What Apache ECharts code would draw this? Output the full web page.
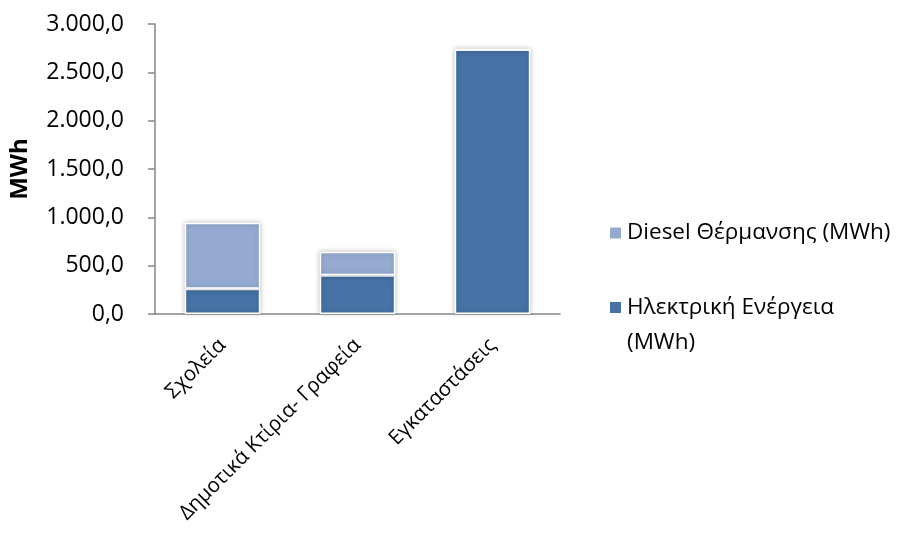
<!DOCTYPE html>
<html>
<head>
<meta charset="utf-8">
<script src="https://cdn.jsdelivr.net/npm/echarts@6/dist/echarts.min.js"></script>
<style>
  html, body { margin: 0; padding: 0; background: #fff; }
  #chart { width: 904px; height: 547px; }
</style>
</head>
<body>
<div id="chart"></div>
<script>
// Energy consumption per building category (MWh)
const categories = ['Σχολεία', 'Δημοτικά Κτίρια- Γραφεία', 'Εγκαταστάσεις'];
const electricName = 'Ηλεκτρική Ενέργεια (MWh)';
const dieselName = 'Diesel Θέρμανσης (MWh)';
const electricValues = [262, 400, 2735];
const dieselValues = [683, 244, 0];
const yTicks = [0, 500, 1000, 1500, 2000, 2500, 3000];

const FONT = '"Open Sans", "Noto Sans", sans-serif';
const DARK = '#4672A6';
const LIGHT = '#95AAD0';

function fmtNum(v) {
  const s = Math.round(v).toString().replace(/\B(?=(\d{3})+(?!\d))/g, '.');
  return s + ',0';
}

const barStyle = (color) => ({
  color: color,
  borderColor: '#ffffff',
  borderWidth: 1.5,
  shadowBlur: 5,
  shadowColor: 'rgba(0,0,0,0.22)',
  shadowOffsetX: 0,
  shadowOffsetY: 0
});

const chart = echarts.init(document.getElementById('chart'), null, { renderer: 'canvas' });
chart.setOption({
  animation: false,
  backgroundColor: '#ffffff',
  grid: { left: 155, right: 344, top: 24, bottom: 233 },
  legend: [
    {
      data: [dieselName],
      left: 603, top: 211,
      itemWidth: 13, itemHeight: 13, itemGap: 0,
      icon: 'rect',
      textStyle: { fontFamily: FONT, fontSize: 22.5, color: '#000', lineHeight: 34 }
    },
    {
      data: [electricName],
      left: 603, top: 250,
      itemWidth: 13, itemHeight: 13, itemGap: 0,
      icon: 'rect',
      // blank leading line keeps the marker level with the first text line
      formatter: () => ' \nΗλεκτρική Ενέργεια\n(MWh)',
      textStyle: { fontFamily: FONT, fontSize: 22.5, color: '#000', lineHeight: 35 }
    }
  ],
  xAxis: {
    type: 'category',
    data: categories,
    axisLine: { lineStyle: { color: '#868686', width: 1.5 } },
    axisTick: { show: false },
    axisLabel: {
      rotate: 45, interval: 0, margin: 28,
      fontFamily: FONT, fontSize: 20.5, color: '#000'
    }
  },
  yAxis: {
    type: 'value',
    min: yTicks[0], max: yTicks[yTicks.length - 1], interval: 500,
    name: 'MWh',
    nameLocation: 'middle',
    nameGap: 123,
    nameRotate: 90,
    nameTextStyle: { fontFamily: FONT, fontSize: 24, fontWeight: 'bold', color: '#000' },
    axisLine: { show: true, lineStyle: { color: '#868686', width: 1.5 } },
    axisTick: { show: true, length: 7, lineStyle: { color: '#868686', width: 1.5 } },
    splitLine: { show: false },
    axisLabel: {
      margin: 31,
      fontFamily: FONT, fontSize: 23, color: '#000',
      formatter: fmtNum
    }
  },
  series: [
    {
      name: electricName,
      type: 'bar',
      stack: 'total',
      barWidth: '56%',
      data: electricValues,
      itemStyle: barStyle(DARK)
    },
    {
      name: dieselName,
      type: 'bar',
      stack: 'total',
      barWidth: '56%',
      data: dieselValues,
      itemStyle: barStyle(LIGHT)
    }
  ]
});
</script>
</body>
</html>
